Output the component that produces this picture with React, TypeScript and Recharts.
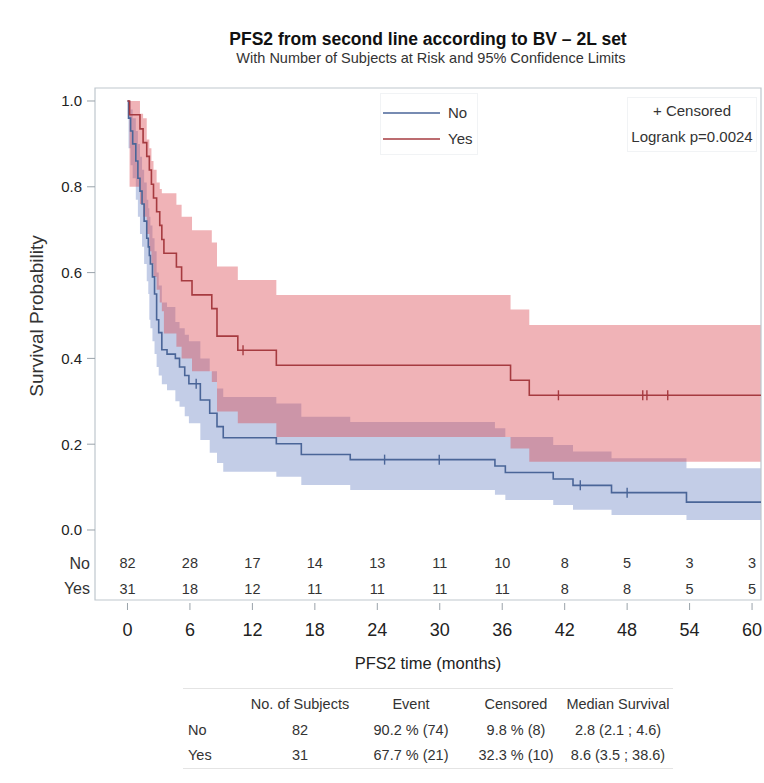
import { ComposedChart, Area, Line, Scatter, XAxis, YAxis, ReferenceArea, Legend } from 'recharts'

const FONT = "'Liberation Sans', Arial, sans-serif"

const BLUE = '#4A6598'
const RED = '#A63B40'
const FRAME = '#BFC7CE'
const TEXT = '#333'

// BV = No : Kaplan-Meier steps with 95% limits (months)
const noTimes = [0.1, 0.3, 0.5, 0.8, 1.0, 1.2, 1.4, 1.6, 1.85, 2.0, 2.1, 2.2, 2.4, 2.6, 2.8, 3.0, 3.3, 3.8, 4.6, 5.0, 5.5, 5.9, 7.0, 7.9, 8.6, 9.2, 14.3, 16.7, 21.4, 35.3, 36.3, 40.9, 42.8, 46.5, 53.7]
const noSurv = [0.96, 0.93, 0.9, 0.86, 0.82, 0.79, 0.76, 0.72, 0.68, 0.66, 0.64, 0.62, 0.59, 0.55, 0.49, 0.46, 0.42, 0.41, 0.4, 0.38, 0.36, 0.341, 0.303, 0.272, 0.241, 0.215, 0.201, 0.176, 0.164, 0.149, 0.134, 0.119, 0.104, 0.087, 0.065]
const noLower = [0.89, 0.85, 0.82, 0.77, 0.73, 0.69, 0.66, 0.62, 0.58, 0.55, 0.49, 0.47, 0.44, 0.41, 0.38, 0.36, 0.34, 0.326, 0.3, 0.287, 0.265, 0.249, 0.21, 0.18, 0.156, 0.136, 0.124, 0.105, 0.093, 0.082, 0.07, 0.058, 0.047, 0.035, 0.023]
const noUpper = [1.0, 0.98, 0.96, 0.93, 0.9, 0.87, 0.84, 0.81, 0.77, 0.75, 0.73, 0.71, 0.68, 0.65, 0.6, 0.57, 0.53, 0.52, 0.485, 0.47, 0.455, 0.44, 0.4, 0.37, 0.33, 0.31, 0.295, 0.264, 0.252, 0.237, 0.217, 0.198, 0.183, 0.167, 0.144]
const noCensorTimes = [6.6, 24.7, 29.95, 43.5, 48.0]
const noCensorSurv = [0.341, 0.164, 0.164, 0.104, 0.087]

// BV = Yes
const yesTimes = [0.2, 1.2, 1.5, 1.85, 2.1, 2.3, 2.5, 2.8, 3.1, 3.3, 3.5, 4.7, 5.2, 6.2, 8.1, 8.6, 10.6, 14.3, 36.8, 38.6]
const yesSurv = [0.968, 0.935, 0.903, 0.871, 0.839, 0.806, 0.774, 0.742, 0.71, 0.677, 0.645, 0.613, 0.581, 0.548, 0.516, 0.452, 0.419, 0.384, 0.349, 0.314]
const yesLower = [0.8, 0.76, 0.73, 0.69, 0.65, 0.62, 0.59, 0.56, 0.53, 0.51, 0.458, 0.427, 0.4, 0.37, 0.345, 0.276, 0.249, 0.217, 0.19, 0.159]
const yesUpper = [1.0, 0.97, 0.96, 0.91, 0.89, 0.86, 0.84, 0.81, 0.795, 0.785, 0.785, 0.758, 0.73, 0.699, 0.67, 0.614, 0.583, 0.548, 0.514, 0.478]
const yesCensorTimes = [11.1, 41.4, 49.5, 49.9, 51.9]
const yesCensorSurv = [0.419, 0.314, 0.314, 0.314, 0.314]

const LAST_TIME = 60.86

// subjects at risk
const riskTicks = [0, 6, 12, 18, 24, 30, 36, 42, 48, 54, 60]
const riskNo = [82, 28, 17, 14, 13, 11, 10, 8, 5, 3, 3]
const riskYes = [31, 18, 12, 11, 11, 11, 11, 8, 8, 5, 5]

const yTicks = [0, 0.2, 0.4, 0.6, 0.8, 1.0]

// summary table
const summaryHeaders = ['No. of Subjects', 'Event', 'Censored', 'Median Survival']
const summaryNo = ['82', '90.2 % (74)', '9.8 % (8)', '2.8 (2.1 ; 4.6)']
const summaryYes = ['31', '67.7 % (21)', '32.3 % (10)', '8.6 (3.5 ; 38.6)']

const groups = [
  { name: 'No', color: BLUE },
  { name: 'Yes', color: RED },
]

// step value in force at time t
function stepValue(times: number[], vals: number[], t: number) {
  let v = 1
  for (let i = 0; i < times.length; i++) if (times[i] <= t) v = vals[i]
  return v
}

const allTimes = Array.from(new Set([0, ...noTimes, ...yesTimes, LAST_TIME])).sort((a, b) => a - b)
const data = allTimes.map((t) => ({
  t,
  no: stepValue(noTimes, noSurv, t),
  noBand: [stepValue(noTimes, noLower, t), stepValue(noTimes, noUpper, t)],
  yes: stepValue(yesTimes, yesSurv, t),
  yesBand: [stepValue(yesTimes, yesLower, t), stepValue(yesTimes, yesUpper, t)],
}))

const noCensored = noCensorTimes.map((t, i) => ({ t, s: noCensorSurv[i] }))
const yesCensored = yesCensorTimes.map((t, i) => ({ t, s: yesCensorSurv[i] }))

const censorMark = (color: string) => (props: any) => (
  <line x1={props.cx} x2={props.cx} y1={props.cy - 5} y2={props.cy + 5} stroke={color} strokeWidth={1.4} />
)

// time tick with the at-risk counts drawn above it, inside the frame
function TimeTick(props: any) {
  const { x, y, payload } = props
  const i = riskTicks.indexOf(payload.value)
  return (
    <g fontFamily={FONT}>
      <text x={x} y={y - 32} textAnchor="middle" fontSize={14.5} fill={TEXT}>{riskNo[i]}</text>
      <text x={x} y={y - 6} textAnchor="middle" fontSize={14.5} fill={TEXT}>{riskYes[i]}</text>
      <line x1={x} x2={x} y1={y + 3} y2={y + 10} stroke="#9AA3AA" />
      <text x={x} y={y + 36} textAnchor="middle" fontSize={18} fill="#222">{payload.value}</text>
    </g>
  )
}

function GroupLegend() {
  return (
    <div style={{ position: 'relative', width: 96, height: 60, border: '1px solid #F1F3F5', fontFamily: FONT, fontSize: 15, color: TEXT }}>
      {groups.map((g, i) => (
        <div key={g.name} style={{ position: 'absolute', left: 2, top: 10 + i * 26, display: 'flex', alignItems: 'center', lineHeight: '18px' }}>
          <svg width={57} height={4}><line x1={0} x2={57} y1={2} y2={2} stroke={g.color} strokeWidth={1.6} /></svg>
          <span style={{ marginLeft: 8 }}>{g.name}</span>
        </div>
      ))}
    </div>
  )
}

const cell = (left: number, top: number, text: string, align: 'left' | 'center' = 'center') => (
  <div
    key={`${left}-${top}-${text}`}
    style={{
      position: 'absolute',
      left: align === 'center' ? left - 80 : left,
      top: top - 10,
      width: align === 'center' ? 160 : 'auto',
      textAlign: align,
      fontFamily: FONT,
      fontSize: 14.5,
      color: TEXT,
      lineHeight: '20px',
      whiteSpace: 'nowrap',
    }}
  >
    {text}
  </div>
)

export default function App() {
  const colX = [300, 411, 516, 618]
  return (
    <div style={{ position: 'absolute', left: 0, top: 0, width: 764, height: 783, background: '#fff' }}>
      <div style={{ position: 'absolute', left: 0, width: 764, top: 28, textAlign: 'center', paddingLeft: 92, boxSizing: 'border-box', fontFamily: FONT, fontWeight: 'bold', fontSize: 17.5, lineHeight: '22px', color: '#111' }}>
        PFS2 from second line according to BV – 2L set
      </div>
      <div style={{ position: 'absolute', left: 0, width: 764, top: 49, textAlign: 'center', paddingLeft: 98, boxSizing: 'border-box', fontFamily: FONT, fontSize: 14.5, lineHeight: '18px', color: TEXT }}>
        With Number of Subjects at Risk and 95% Confidence Limits
      </div>

      <ComposedChart width={764} height={783} data={data} margin={{ top: 88, right: 3, bottom: 108, left: 35 }}>
        <XAxis
          dataKey="t"
          type="number"
          domain={[-3.12, LAST_TIME]}
          ticks={riskTicks}
          interval={0}
          allowDataOverflow
          axisLine={false}
          tickLine={false}
          tickSize={0}
          tickMargin={0}
          height={75}
          tick={<TimeTick />}
          label={{ value: 'PFS2 time (months)', position: 'insideBottom', offset: 6, fontFamily: FONT, fontSize: 16.5, fill: '#222' }}
        />
        <YAxis
          type="number"
          domain={[-0.1632, 1.0303]}
          ticks={yTicks}
          allowDataOverflow
          width={60}
          axisLine={false}
          tickSize={8}
          tickMargin={5}
          tickLine={{ stroke: '#9AA3AA' }}
          tickFormatter={(v: number) => v.toFixed(1)}
          tick={{ fontFamily: FONT, fontSize: 15, fill: '#222' }}
        />
        <Area type="stepAfter" dataKey="noBand" stroke="none" fill="#C3CDE7" fillOpacity={1} isAnimationActive={false} />
        <Area type="stepAfter" dataKey="yesBand" stroke="none" fill="#DA424B" fillOpacity={0.4} isAnimationActive={false} />
        <Line type="stepAfter" dataKey="no" stroke={BLUE} strokeWidth={1.6} dot={false} isAnimationActive={false} />
        <Line type="stepAfter" dataKey="yes" stroke={RED} strokeWidth={1.6} dot={false} isAnimationActive={false} />
        <Scatter data={noCensored} dataKey="s" shape={censorMark(BLUE)} isAnimationActive={false} />
        <Scatter data={yesCensored} dataKey="s" shape={censorMark(RED)} isAnimationActive={false} />
        <ReferenceArea x1={-3.12} x2={LAST_TIME} y1={-0.1632} y2={1.0303} fill="none" stroke={FRAME} strokeWidth={1.2} />
        <Legend
          layout="horizontal"
          verticalAlign="middle"
          align="center"
          content={<GroupLegend />}
          wrapperStyle={{ left: 380, top: 93, width: 98, height: 62 }}
        />
      </ComposedChart>

      <div style={{ position: 'absolute', left: 627, top: 97, width: 128, height: 53, border: '1px solid #F1F3F5', fontFamily: FONT, fontSize: 15, color: TEXT, textAlign: 'center', lineHeight: '26px', whiteSpace: 'nowrap' }}>
        <div>+ Censored</div>
        <div>Logrank p=0.0024</div>
      </div>

      <div style={{ position: 'absolute', left: 37, top: 316, width: 0, height: 0 }}>
        <div style={{ position: 'absolute', left: -100, top: -12, width: 200, textAlign: 'center', transform: 'rotate(-90deg)', fontFamily: FONT, fontSize: 19, color: TEXT, lineHeight: '24px' }}>
          Survival Probability
        </div>
      </div>

      <div style={{ position: 'absolute', left: 30, top: 554, width: 60, textAlign: 'right', fontFamily: FONT, fontSize: 16, color: TEXT, lineHeight: '20px' }}>No</div>
      <div style={{ position: 'absolute', left: 30, top: 579, width: 60, textAlign: 'right', fontFamily: FONT, fontSize: 16, color: TEXT, lineHeight: '20px' }}>Yes</div>

      <div style={{ position: 'absolute', left: 183, top: 688, width: 490, borderTop: '1px solid #E4E4E4' }} />
      <div style={{ position: 'absolute', left: 183, top: 768, width: 490, borderTop: '1px solid #E4E4E4' }} />
      {summaryHeaders.map((h, i) => cell(colX[i], 704, h))}
      {cell(188, 730, 'No', 'left')}
      {summaryNo.map((v, i) => cell(colX[i], 730, v))}
      {cell(188, 755, 'Yes', 'left')}
      {summaryYes.map((v, i) => cell(colX[i], 755, v))}
    </div>
  )
}
